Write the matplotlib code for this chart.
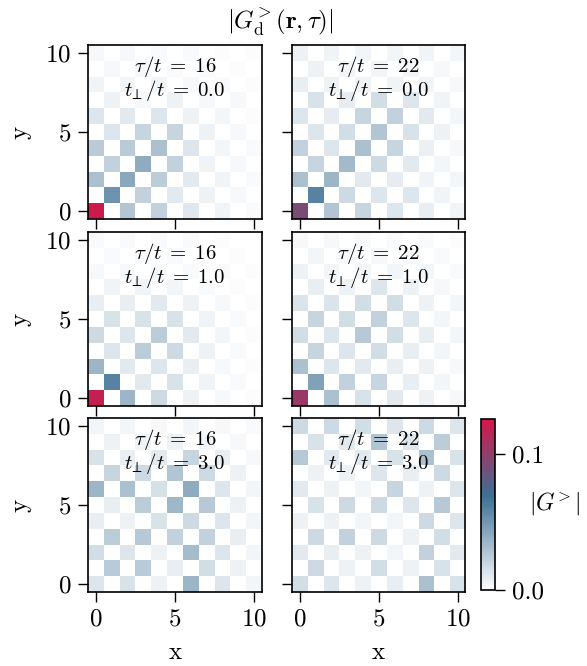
import numpy as np
import matplotlib
matplotlib.use('Agg')
import matplotlib.pyplot as plt
from matplotlib.colors import LinearSegmentedColormap

plt.rcParams['font.family'] = 'serif'
plt.rcParams['font.serif'] = ['cmr10']
plt.rcParams['mathtext.fontset'] = 'cm'
plt.rcParams['axes.formatter.use_mathtext'] = True

# |G^>| on the 11x11 lattice, rows listed from y=10 (top) down to y=0, in units of 1e-3
tau_vals = [16, 22]
tperp_vals = [0.0, 1.0, 3.0]

g_tau16_t0 = [
    [3, 0, 3, 0, 2, 0, 2, 0, 1, 0, 1],
    [0, 3, 0, 3, 0, 2, 0, 2, 0, 1, 0],
    [5, 0, 4, 0, 4, 0, 3, 0, 2, 0, 1],
    [0, 6, 0, 3, 0, 6, 0, 3, 0, 3, 0],
    [12, 0, 10, 0, 12, 0, 6, 0, 4, 0, 1],
    [0, 12, 0, 20, 0, 20, 0, 6, 0, 3, 0],
    [25, 0, 25, 0, 30, 0, 12, 0, 4, 0, 2],
    [0, 22, 0, 40, 0, 22, 0, 5, 0, 3, 0],
    [30, 0, 42, 0, 24, 0, 10, 0, 5, 0, 2],
    [0, 52, 0, 22, 0, 10, 0, 6, 0, 3, 0],
    [123, 0, 28, 0, 22, 0, 11, 0, 5, 0, 2],
]
g_tau22_t0 = [
    [6, 0, 5, 0, 4, 0, 4, 0, 5, 0, 4],
    [0, 6, 0, 4, 0, 4, 0, 4, 0, 3, 0],
    [8, 0, 6, 0, 5, 0, 5, 0, 4, 0, 3],
    [0, 14, 0, 9, 0, 16, 0, 12, 0, 5, 0],
    [12, 0, 9, 0, 20, 0, 22, 0, 10, 0, 4],
    [0, 12, 0, 16, 0, 28, 0, 14, 0, 6, 0],
    [22, 0, 12, 0, 30, 0, 20, 0, 7, 0, 3],
    [0, 20, 0, 33, 0, 18, 0, 10, 0, 4, 0],
    [30, 0, 35, 0, 10, 0, 9, 0, 5, 0, 4],
    [0, 60, 0, 18, 0, 12, 0, 12, 0, 5, 0],
    [92, 0, 28, 0, 20, 0, 12, 0, 8, 0, 5],
]
g_tau16_t1 = [
    [2, 0, 2, 0, 2, 0, 2, 0, 1, 0, 0],
    [0, 2, 0, 2, 0, 2, 0, 1, 0, 1, 0],
    [3, 0, 3, 0, 3, 0, 2, 0, 2, 0, 1],
    [0, 5, 0, 5, 0, 4, 0, 2, 0, 1, 0],
    [8, 0, 8, 0, 10, 0, 6, 0, 3, 0, 1],
    [0, 14, 0, 14, 0, 14, 0, 5, 0, 2, 0],
    [18, 0, 12, 0, 24, 0, 10, 0, 4, 0, 1],
    [0, 12, 0, 24, 0, 18, 0, 6, 0, 2, 0],
    [35, 0, 10, 0, 12, 0, 8, 0, 3, 0, 1],
    [0, 60, 0, 10, 0, 14, 0, 5, 0, 2, 0],
    [120, 0, 35, 0, 18, 0, 6, 0, 3, 0, 1],
]
g_tau22_t1 = [
    [3, 0, 3, 0, 2, 0, 2, 0, 2, 0, 1],
    [0, 4, 0, 3, 0, 3, 0, 3, 0, 2, 0],
    [6, 0, 4, 0, 4, 0, 4, 0, 4, 0, 2],
    [0, 8, 0, 6, 0, 12, 0, 6, 0, 3, 0],
    [13, 0, 13, 0, 16, 0, 16, 0, 6, 0, 4],
    [0, 20, 0, 16, 0, 22, 0, 12, 0, 4, 0],
    [16, 0, 12, 0, 26, 0, 16, 0, 8, 0, 4],
    [0, 20, 0, 12, 0, 16, 0, 8, 0, 4, 0],
    [30, 0, 12, 0, 10, 0, 8, 0, 6, 0, 3],
    [0, 45, 0, 22, 0, 20, 0, 8, 0, 4, 0],
    [104, 0, 30, 0, 14, 0, 10, 0, 6, 0, 3],
]
g_tau16_t3 = [
    [4, 0, 4, 0, 3, 0, 4, 0, 3, 0, 2],
    [0, 6, 0, 5, 0, 6, 0, 4, 0, 3, 0],
    [14, 0, 8, 0, 10, 0, 20, 0, 8, 0, 3],
    [0, 20, 0, 18, 0, 28, 0, 18, 0, 6, 0],
    [35, 0, 30, 0, 15, 0, 40, 0, 12, 0, 4],
    [0, 8, 0, 24, 0, 34, 0, 26, 0, 6, 0],
    [8, 0, 6, 0, 14, 0, 18, 0, 12, 0, 4],
    [0, 24, 0, 26, 0, 22, 0, 22, 0, 8, 0],
    [16, 0, 12, 0, 6, 0, 32, 0, 12, 0, 4],
    [0, 25, 0, 25, 0, 8, 0, 16, 0, 6, 0],
    [12, 0, 14, 0, 6, 0, 35, 0, 12, 0, 4],
]
g_tau22_t3 = [
    [18, 0, 18, 0, 16, 0, 12, 0, 18, 0, 12],
    [0, 14, 0, 10, 0, 28, 0, 12, 0, 24, 0],
    [26, 0, 10, 0, 10, 0, 14, 0, 30, 0, 14],
    [0, 6, 0, 6, 0, 12, 0, 8, 0, 18, 0],
    [10, 0, 6, 0, 4, 0, 20, 0, 6, 0, 12],
    [0, 14, 0, 18, 0, 18, 0, 12, 0, 26, 0],
    [6, 0, 6, 0, 4, 0, 4, 0, 18, 0, 12],
    [0, 18, 0, 22, 0, 18, 0, 6, 0, 16, 0],
    [10, 0, 8, 0, 6, 0, 4, 0, 22, 0, 10],
    [0, 18, 0, 6, 0, 16, 0, 6, 0, 14, 0],
    [16, 0, 12, 0, 6, 0, 8, 0, 30, 0, 14],
]

grids = [[g_tau16_t0, g_tau22_t0],
         [g_tau16_t1, g_tau22_t1],
         [g_tau16_t3, g_tau22_t3]]

vmax = 0.126
cmap = LinearSegmentedColormap.from_list(
    'wbr', [(0.0, '#ffffff'), (0.55, '#3d6f93'), (1.0, '#d5164a')])

fig = plt.figure(figsize=(5.87, 6.66), dpi=100)

lefts = [0.150, 0.497]
bottoms = [0.671, 0.390, 0.111]
w, h = 0.296, 0.261

for i in range(3):
    for j in range(2):
        ax = fig.add_axes([lefts[j], bottoms[i], w, h])
        data = np.array(grids[i][j]) * 1e-3
        im = ax.imshow(data, cmap=cmap, vmin=0, vmax=vmax, origin='upper',
                       extent=(-0.5, 10.5, -0.5, 10.5), interpolation='nearest')
        ax.set_xticks([0, 5, 10])
        ax.set_yticks([0, 5, 10])
        ax.tick_params(labelsize=18, length=7, width=1, pad=5)
        for s in ax.spines.values():
            s.set_linewidth(1.2)
        if i < 2:
            ax.set_xticklabels([])
        else:
            ax.set_xlabel('x', fontsize=18, labelpad=8)
        if j > 0:
            ax.set_yticklabels([])
        else:
            ax.set_ylabel('y', fontsize=18, labelpad=10)
        ax.text(0.5, 0.95, r'$\tau/t\;=\;%d$' % tau_vals[j] + '\n' + r'$t_{\!\perp}/t\;=\;%.1f$' % tperp_vals[i],
                transform=ax.transAxes, ha='center', va='top', fontsize=15,
                linespacing=0.95)

cax = fig.add_axes([0.819, 0.114, 0.024, 0.257])
cb = fig.colorbar(im, cax=cax, ticks=[0.0, 0.1], format='%.1f')
cb.ax.tick_params(labelsize=18, length=7, width=1, pad=5)
cb.outline.set_linewidth(1.2)
cb.set_label(r'$|G^{\!>}|$', fontsize=17, rotation=0, labelpad=8, va='center')

fig.text(0.477, 0.967, r'$|G^{\!>}_{\mathrm{d}}(\mathbf{r},\tau)|$', ha='center', va='center', fontsize=18)

fig.savefig('out.png', dpi=100)
